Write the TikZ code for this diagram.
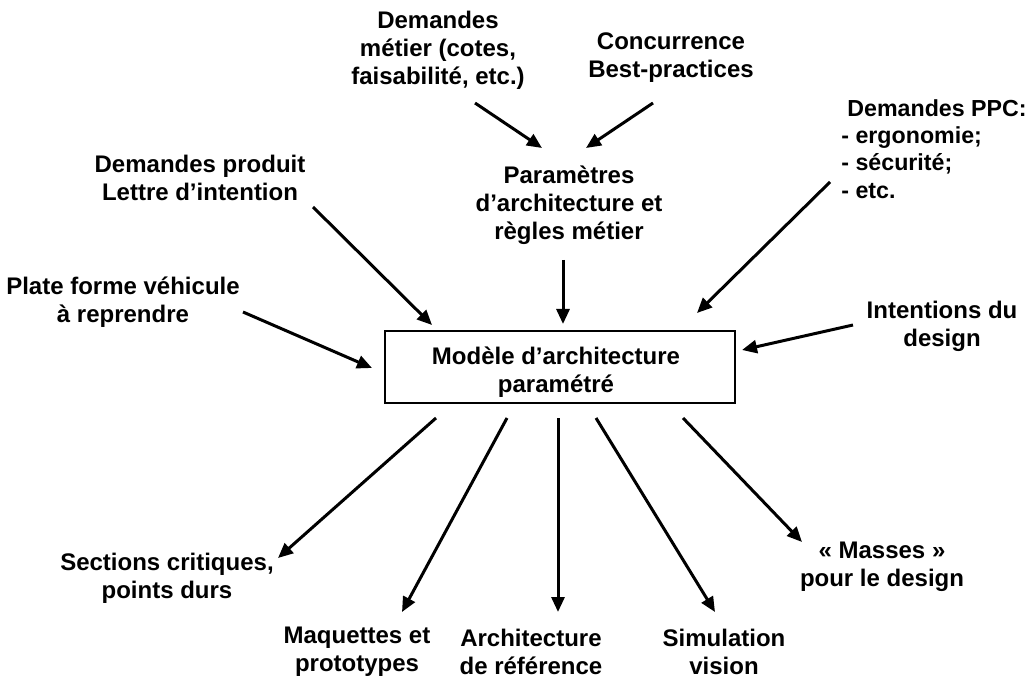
\documentclass[tikz,border=0pt]{standalone}
\usepackage{fontspec}
\setmainfont{Liberation Sans}
\usetikzlibrary{arrows.meta}
\tikzset{
  lbl/.style={align=center, inner sep=0pt, font=\fontsize{12}{14}\selectfont\bfseries},
  mainbox/.style={draw, line width=0.75pt, minimum width=175pt, minimum height=36pt, inner sep=0pt},
  arr/.style={line width=1.5pt, -{Triangle[length=7.5pt,width=6.5pt]}}
}
\begin{document}
\begin{tikzpicture}[x=0.5pt,y=-0.5pt]
\useasboundingbox (0,0) rectangle (1027,678);
% nodes
\node[lbl] (metier) at (438,50) {Demandes\\métier (cotes,\\faisabilité, etc.)};
\node[lbl] (conc) at (671,58) {Concurrence\\Best-practices};
\node[lbl] (param) at (569,205) {Paramètres\\d’architecture et\\règles métier};
\node[lbl, align=left, anchor=west, font=\fontsize{11.6}{13.6}\selectfont\bfseries] (ppc) at (841,149) {\hspace*{3pt}Demandes PPC:\\- ergonomie;\\- sécurité;\\- etc.};
\node[lbl] (produit) at (200,178) {Demandes produit\\Lettre d’intention};
\node[lbl] (plate) at (123,302) {Plate forme véhicule\\à reprendre};
\node[mainbox] (modele) at (560,367) {};
\node[lbl] (modeletxt) at (556,372) {Modèle d’architecture\\paramétré};
\node[lbl] (intent) at (942,326) {Intentions du\\design};
\node[lbl] (sections) at (167,578) {Sections critiques,\\points durs};
\node[lbl] (maq) at (357,652) {Maquettes et\\prototypes};
\node[lbl] (archi) at (531,652) {Architecture\\de référence};
\node[lbl] (simu) at (724,652) {Simulation\\vision};
\node[lbl] (masses) at (882,567) {« Masses »\\pour le design};
% arrow end points
\coordinate (as) at (475,103); \coordinate (ae) at (542,148);
\coordinate (bs) at (653,103); \coordinate (be) at (586,148);
\coordinate (cs) at (563,260); \coordinate (ce) at (563,324);
\coordinate (ds) at (313,207); \coordinate (de) at (432,325);
\coordinate (es) at (243,312); \coordinate (ee) at (372,368);
\coordinate (fs) at (830,182); \coordinate (fe) at (697,313);
\coordinate (gs) at (853,325); \coordinate (ge) at (742,350);
\coordinate (hs) at (436,418); \coordinate (he) at (278,558);
\coordinate (is) at (507,418); \coordinate (ie) at (402,612);
\coordinate (js) at (558,418); \coordinate (je) at (558,612);
\coordinate (ks) at (596,418); \coordinate (ke) at (715,612);
\coordinate (ls) at (683,418); \coordinate (le) at (802,542);
% arrows
\draw[arr] (as) -- (ae);
\draw[arr] (bs) -- (be);
\draw[arr] (cs) -- (ce);
\draw[arr] (ds) -- (de);
\draw[arr] (es) -- (ee);
\draw[arr] (fs) -- (fe);
\draw[arr] (gs) -- (ge);
\draw[arr] (hs) -- (he);
\draw[arr] (is) -- (ie);
\draw[arr] (js) -- (je);
\draw[arr] (ks) -- (ke);
\draw[arr] (ls) -- (le);
\end{tikzpicture}
\end{document}
